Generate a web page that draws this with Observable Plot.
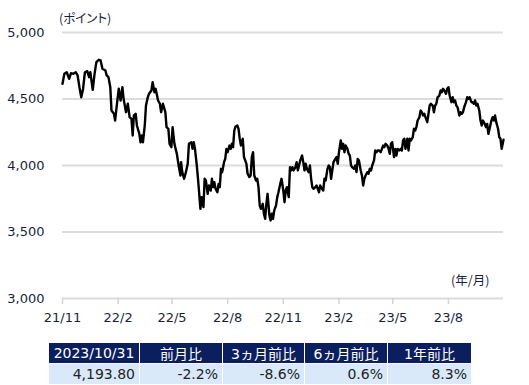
<!DOCTYPE html>
<html><head><meta charset="utf-8">
<script src="https://cdn.jsdelivr.net/npm/d3@7"></script>
<script src="https://cdn.jsdelivr.net/npm/@observablehq/plot@0.6"></script>
<style>
body{margin:0;background:#fff;}
#wrap{position:relative;width:529px;height:385px;overflow:hidden;}
.lbl{position:absolute;font-family:"Noto Sans CJK JP",sans-serif;font-size:12.5px;color:#1a1f3a;white-space:nowrap;line-height:1;font-feature-settings:"palt";}
#tbl{position:absolute;left:48px;top:343px;border-collapse:collapse;font-family:"DejaVu Sans","Noto Sans CJK JP",sans-serif;font-size:14px;}
#tbl td{padding:0 4px;border-left:1px solid #fff;border-right:1px solid #fff;white-space:nowrap;}
#tbl tr.h td{background:#0b1f5e;color:#fff;text-align:center;height:20px;border-bottom:1px solid #fff;}
#tbl tr.v td{background:#d9e9fa;color:#222;text-align:right;height:20px;}
</style></head>
<body><div id="wrap"></div>
<script>
const dates = [
"2021-11-01","2021-11-04","2021-11-08","2021-11-12","2021-11-15","2021-11-19","2021-11-23","2021-11-26","2021-11-29","2021-12-02",
"2021-12-05","2021-12-08","2021-12-12","2021-12-15","2021-12-17","2021-12-21","2021-12-24","2021-12-27","2021-12-31","2022-01-03",
"2022-01-06","2022-01-11","2022-01-13","2022-01-16","2022-01-19","2022-01-21","2022-01-25","2022-01-27","2022-01-30","2022-02-02",
"2022-02-05","2022-02-08","2022-02-10","2022-02-14","2022-02-17","2022-02-20","2022-02-23","2022-02-25","2022-02-27","2022-03-02",
"2022-03-04","2022-03-08","2022-03-10","2022-03-12","2022-03-14","2022-03-17","2022-03-19","2022-03-22","2022-03-24","2022-03-28",
"2022-03-30","2022-04-02","2022-04-04","2022-04-08","2022-04-11","2022-04-13","2022-04-16","2022-04-20","2022-04-22","2022-04-25",
"2022-04-27","2022-04-30","2022-05-02","2022-05-05","2022-05-07","2022-05-09","2022-05-12","2022-05-15","2022-05-16","2022-05-18",
"2022-05-21","2022-05-24","2022-05-27","2022-05-29","2022-06-02","2022-06-04","2022-06-06","2022-06-08","2022-06-11","2022-06-13",
"2022-06-15","2022-06-17","2022-06-19","2022-06-22","2022-06-24","2022-06-26","2022-06-29","2022-07-01","2022-07-04","2022-07-06",
"2022-07-08","2022-07-10","2022-07-12","2022-07-15","2022-07-17","2022-07-19","2022-07-21","2022-07-23","2022-07-26","2022-07-28",
"2022-07-30","2022-08-01","2022-08-04","2022-08-06","2022-08-08","2022-08-10","2022-08-12","2022-08-14","2022-08-17","2022-08-19",
"2022-08-21","2022-08-23","2022-08-26","2022-08-28","2022-08-30","2022-09-01","2022-09-03","2022-09-06","2022-09-08","2022-09-10",
"2022-09-12","2022-09-14","2022-09-17","2022-09-19","2022-09-21","2022-09-23","2022-09-25","2022-09-28","2022-09-30","2022-10-02",
"2022-10-04","2022-10-06","2022-10-09","2022-10-11","2022-10-13","2022-10-15","2022-10-17","2022-10-20","2022-10-22","2022-10-24",
"2022-10-27","2022-10-29","2022-11-01","2022-11-03","2022-11-05","2022-11-07","2022-11-10","2022-11-12","2022-11-14","2022-11-16",
"2022-11-18","2022-11-21","2022-11-23","2022-11-25","2022-11-27","2022-11-29","2022-12-02","2022-12-04","2022-12-06","2022-12-08",
"2022-12-10","2022-12-13","2022-12-15","2022-12-17","2022-12-19","2022-12-21","2022-12-24","2022-12-26","2022-12-28","2022-12-30",
"2023-01-01","2023-01-04","2023-01-06","2023-01-08","2023-01-10","2023-01-13","2023-01-15","2023-01-17","2023-01-19","2023-01-21",
"2023-01-23","2023-01-26","2023-01-28","2023-01-30","2023-02-01","2023-02-04","2023-02-06","2023-02-08","2023-02-10","2023-02-12",
"2023-02-15","2023-02-17","2023-02-19","2023-02-21","2023-02-23","2023-02-26","2023-02-28","2023-03-02","2023-03-04","2023-03-06",
"2023-03-09","2023-03-11","2023-03-13","2023-03-15","2023-03-17","2023-03-20","2023-03-22","2023-03-24","2023-03-26","2023-03-28",
"2023-03-31","2023-04-02","2023-04-04","2023-04-06","2023-04-08","2023-04-11","2023-04-13","2023-04-15","2023-04-17","2023-04-19",
"2023-04-22","2023-04-24","2023-04-26","2023-04-28","2023-04-30","2023-05-03","2023-05-05","2023-05-07","2023-05-09","2023-05-12",
"2023-05-14","2023-05-16","2023-05-18","2023-05-20","2023-05-22","2023-05-25","2023-05-27","2023-05-29","2023-05-31","2023-06-03",
"2023-06-05","2023-06-07","2023-06-09","2023-06-11","2023-06-14","2023-06-16","2023-06-18","2023-06-20","2023-06-22","2023-06-25",
"2023-06-27","2023-06-29","2023-07-01","2023-07-03","2023-07-06","2023-07-08","2023-07-10","2023-07-12","2023-07-14","2023-07-17",
"2023-07-19","2023-07-21","2023-07-23","2023-07-25","2023-07-28","2023-07-30","2023-08-01","2023-08-03","2023-08-06","2023-08-08",
"2023-08-10","2023-08-12","2023-08-14","2023-08-16","2023-08-19","2023-08-21","2023-08-23","2023-08-25","2023-08-27","2023-08-30",
"2023-09-01","2023-09-03","2023-09-05","2023-09-08","2023-09-10","2023-09-12","2023-09-14","2023-09-16","2023-09-18","2023-09-21",
"2023-09-23","2023-09-25","2023-09-27","2023-09-30","2023-10-02","2023-10-04","2023-10-06","2023-10-08","2023-10-11","2023-10-13",
"2023-10-15","2023-10-17","2023-10-19","2023-10-22","2023-10-24","2023-10-26","2023-10-28","2023-10-31"
];
const values = [
4614,4689,4701,4652,4694,4689,4701,4677,4589,4513,
4576,4701,4709,4664,4701,4569,4689,4777,4795,4790,
4727,4714,4677,4664,4589,4413,4389,4338,4464,4577,
4489,4589,4501,4401,4464,4363,4351,4226,4376,4389,
4301,4238,4175,4226,4175,4301,4451,4513,4539,4564,
4626,4551,4577,4489,4464,4401,4464,4401,4288,4276,
4163,4138,4288,4163,4125,4088,4000,3925,4025,3950,
3900,3950,4013,4163,4175,4125,4175,4125,4000,3900,
3787,3674,3762,3687,3900,3887,3787,3850,3812,3900,
3837,3875,3825,3799,3862,3837,3975,3950,4025,4050,
4125,4100,4150,4125,4163,4138,4263,4293,4301,4276,
4201,4150,4201,4063,4038,4013,3938,3913,3925,4063,
4100,3925,3887,3900,3837,3699,3674,3712,3637,3599,
3712,3787,3624,3587,3637,3599,3662,3699,3762,3799,
3862,3900,3812,3724,3812,3837,3762,3987,3963,3987,
3963,3987,4025,3963,4000,4038,4075,4025,3963,4013,
3975,3950,4000,3900,3837,3825,3837,3850,3825,3799,
3850,3825,3812,3900,3887,3975,4000,3987,3900,3963,
4025,4050,4063,4013,4100,4188,4125,4163,4100,4150,
4125,4088,4075,4000,3987,3975,4000,3950,4050,4038,
3963,3925,3850,3900,3925,3950,3938,3975,3963,4000,
4038,4113,4100,4113,4113,4100,4125,4150,4138,4163,
4150,4125,4088,4163,4175,4063,4125,4075,4125,4113,
4125,4113,4188,4201,4125,4201,4113,4201,4188,4213,
4276,4263,4288,4338,4363,4413,4401,4376,4389,4351,
4326,4389,4451,4464,4451,4401,4451,4464,4513,4526,
4564,4551,4577,4564,4539,4577,4589,4526,4476,4513,
4476,4489,4451,4439,4376,4401,4389,4401,4439,4476,
4513,4501,4513,4476,4476,4464,4489,4451,4464,4413,
4338,4301,4338,4313,4288,4313,4238,4276,4338,4363,
4338,4376,4326,4276,4213,4201,4125,4193.80
];
const xTicks = ["2021-11-01","2022-02-01","2022-05-01","2022-08-01","2022-11-01","2023-02-01","2023-05-01","2023-08-01"];
const yTicks = [3000,3500,4000,4500,5000];
const yLabel = "(ポイント)";
const xLabel = "(年/月)";
const tableHeaders = ["2023/10/31","前月比","3ヵ月前比","6ヵ月前比","1年前比"];
const tableValues = ["4,193.80","-2.2%","-8.6%","0.6%","8.3%"];
const colWidths = [92,84,83,84,85];

const data = dates.map((d,i)=>({date:new Date(d), value:values[i]}));
const chart = Plot.plot({
  width:529, height:335,
  marginLeft:62, marginRight:26, marginTop:32, marginBottom:37,
  style:{fontFamily:"DejaVu Sans, sans-serif", fontSize:"13px", color:"#222", background:"white"},
  x:{type:"utc", domain:[new Date("2021-11-01"), new Date("2023-10-31")]},
  y:{domain:[3000,5000]},
  marks:[
    Plot.ruleY(yTicks,{stroke:"#dcdcdc", strokeWidth:2}),
    Plot.axisX(xTicks.map(d=>new Date(d)),{tickFormat:d3.utcFormat("%y/%-m"), tickSize:6, tickPadding:8, stroke:"#d4d4d4", strokeWidth:1.5, fill:"#1a1f3a", fontSize:13, label:null}),
    Plot.axisY(yTicks,{tickFormat:d3.format(","), tickSize:0, tickPadding:18, fill:"#1a1f3a", fontSize:13, label:null}),
    Plot.lineY(data,{x:"date", y:"value", stroke:"#000", strokeWidth:2.4, strokeLinejoin:"round"})
  ]
});
const wrap = document.getElementById("wrap");
wrap.appendChild(chart);

const yl = document.createElement("div");
yl.className="lbl"; yl.textContent=yLabel; yl.style.left="59px"; yl.style.top="12px";
wrap.appendChild(yl);
const xl = document.createElement("div");
xl.className="lbl"; xl.textContent=xLabel; xl.style.left="451px"; xl.style.top="274px";
wrap.appendChild(xl);

const tbl = document.createElement("table"); tbl.id="tbl";
const trh = document.createElement("tr"); trh.className="h";
const trv = document.createElement("tr"); trv.className="v";
tableHeaders.forEach((h,i)=>{
  const td=document.createElement("td"); td.textContent=h; td.style.width=(colWidths[i]-10)+"px"; trh.appendChild(td);
  const tv=document.createElement("td"); tv.textContent=tableValues[i]; trv.appendChild(tv);
});
tbl.appendChild(trh); tbl.appendChild(trv);
wrap.appendChild(tbl);
</script>
</body></html>
